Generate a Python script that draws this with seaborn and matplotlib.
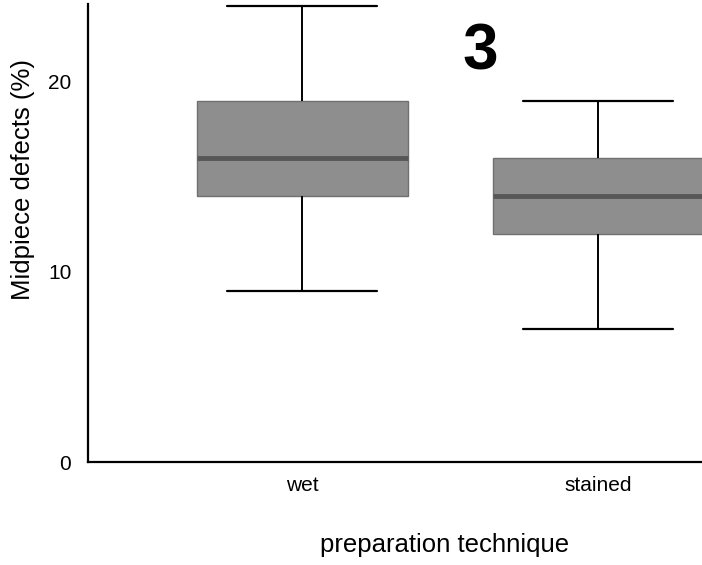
import pandas as pd
import matplotlib
matplotlib.use('Agg')
import matplotlib.pyplot as plt
import seaborn as sns

# values (box: whisker-lo, Q1, median, Q3, whisker-hi)
techniques = ['wet', 'stained']
wet_values = [9, 14, 16, 19, 24]
stained_values = [7, 12, 14, 16, 19]
y_ticks = [0, 10, 20]


def build_frame():
    rows = []
    for tech, vals in zip(techniques, [wet_values, stained_values]):
        for v in vals:
            rows.append({'technique': tech, 'defects': v})
    return pd.DataFrame(rows)


def make_plot():
    data = build_frame()

    sns.set_style('white')
    plt.rcParams['font.family'] = ['Liberation Sans', 'DejaVu Sans']
    for key in ['text.color', 'axes.labelcolor', 'xtick.color', 'ytick.color']:
        plt.rcParams[key] = 'black'

    fig = plt.figure(figsize=(7.02, 5.65), dpi=100)
    ax = fig.add_axes([0.1254, 0.1823, 0.8746, 0.8106])

    sns.boxplot(x='technique', y='defects', data=data, order=techniques,
                width=0.713, whis=1.5, color='#8e8e8e', linecolor='#707070',
                linewidth=1.0, capwidths=0.507,
                medianprops={'color': '#575757', 'linewidth': 3.5},
                whiskerprops={'color': 'black', 'linewidth': 1.4},
                capprops={'color': 'black', 'linewidth': 1.6},
                ax=ax)

    ax.set_xlim(-0.723, 1.351)
    ax.set_ylim(0, 24.1)
    ax.set_yticks(y_ticks)
    ax.tick_params(axis='both', length=0, labelsize=15)
    ax.tick_params(axis='y', pad=12)
    ax.tick_params(axis='x', pad=10)

    for side in ['top', 'right']:
        ax.spines[side].set_visible(False)
    for side in ['left', 'bottom']:
        ax.spines[side].set_color('black')
        ax.spines[side].set_linewidth(1.6)

    ax.set_ylabel('Midpiece defects (%)', fontsize=18.5)
    ax.yaxis.set_label_coords(-0.086, 0.616)
    ax.set_xlabel('preparation technique', fontsize=18.5)
    ax.xaxis.set_label_coords(0.581, -0.155)

    ax.text(0.639, 0.895, '3', transform=ax.transAxes, fontsize=46,
            fontweight='bold', ha='center', va='center')

    fig.savefig('out.png', dpi=100)
    plt.close(fig)


if __name__ == '__main__':
    make_plot()
